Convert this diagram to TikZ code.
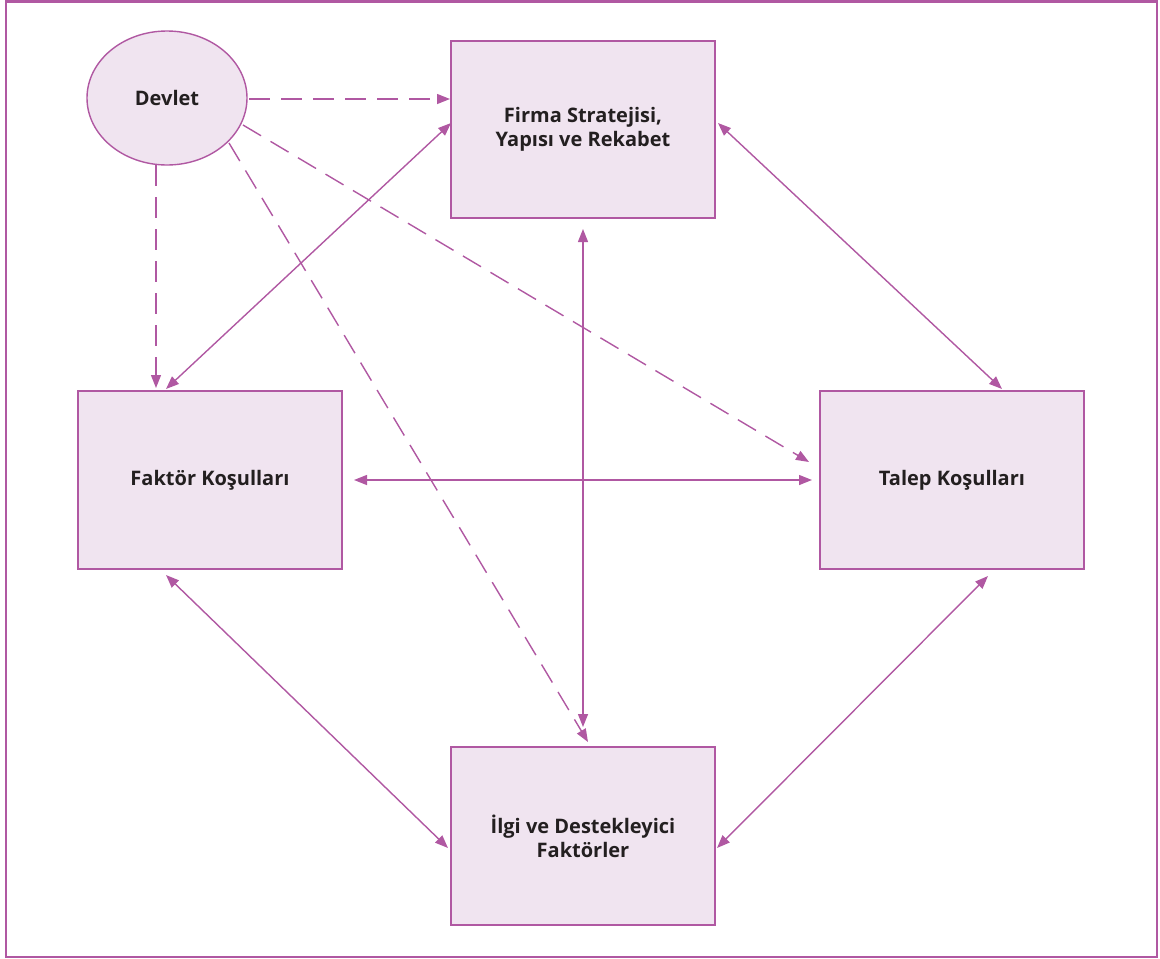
\documentclass[tikz,border=0pt]{standalone}
\usepackage{fontspec}
\setmainfont{Open Sans}
\usetikzlibrary{arrows.meta,calc,shapes.geometric}
\definecolor{plum}{HTML}{B058A2}
\definecolor{lilac}{HTML}{F0E4F0}
\definecolor{ink}{HTML}{231F20}
\begin{document}
\begin{tikzpicture}[x=1pt,y=-1pt,
  box/.style={draw=plum,fill=lilac,line width=1.4pt,minimum width=264pt,minimum height=178pt,
    inner sep=0pt,align=center,text=ink,font=\fontsize{20}{24}\selectfont\bfseries},
  oval/.style={ellipse,draw=plum,fill=lilac,line width=1.4pt,minimum width=160pt,minimum height=134pt,
    inner sep=0pt,text=ink,font=\fontsize{20}{24}\selectfont\bfseries},
  link/.style={draw=plum,line width=1.4pt,{Triangle[length=13pt,width=10pt]}-{Triangle[length=13pt,width=10pt]}},
  govlink/.style={draw=plum,line width=1.4pt,dash pattern=on 21pt off 11pt,-{Triangle[length=13pt,width=10pt]}}]
\useasboundingbox (0,0) rectangle (1160,959);
% outer frame
\draw[plum,line width=2.2pt] (6,1.5) rectangle (1157,957);

% boxes
\node[oval] (dev) at (167,98) {Devlet};
\node[box,minimum height=177pt] (firma) at (583,129.5) {Firma Stratejisi,\\Yapısı ve Rekabet};
\node[box] (faktor) at (210,480) {Faktör Koşulları};
\node[box] (talep) at (952,480) {Talep Koşulları};
\node[box] (ilgi) at (583,836) {İlgi ve Destekleyici\\Faktörler};

% government influence (dashed)
\draw[govlink] ($(dev.center)+(82,1)$) -- ($(firma.center)+(-133,-30.5)$);
\draw[govlink] ($(dev.center)+(-11,67)$) -- ($(faktor.center)+(-54,-92)$);
\draw[govlink] ($(dev.center)+(76,27)$) -- ($(talep.center)+(-143,-18)$);
\draw[govlink] ($(dev.center)+(62,45)$) -- ($(ilgi.center)+(5,-94)$);

% mutual links (solid)
\draw[link] ($(faktor.center)+(-44,-91)$) -- ($(firma.center)+(-132,-6.5)$);
\draw[link] ($(firma.center)+(135,-6.5)$) -- ($(talep.center)+(50,-91)$);
\draw[link] ($(firma.center)+(0,99.5)$) -- ($(ilgi.center)+(0,-109)$);
\draw[link] ($(faktor.center)+(144,0)$) -- ($(talep.center)+(-140,0)$);
\draw[link] ($(faktor.center)+(-44,95)$) -- ($(ilgi.center)+(-135,12)$);
\draw[link] ($(talep.center)+(36,96)$) -- ($(ilgi.center)+(134,12)$);
\end{tikzpicture}
\end{document}
